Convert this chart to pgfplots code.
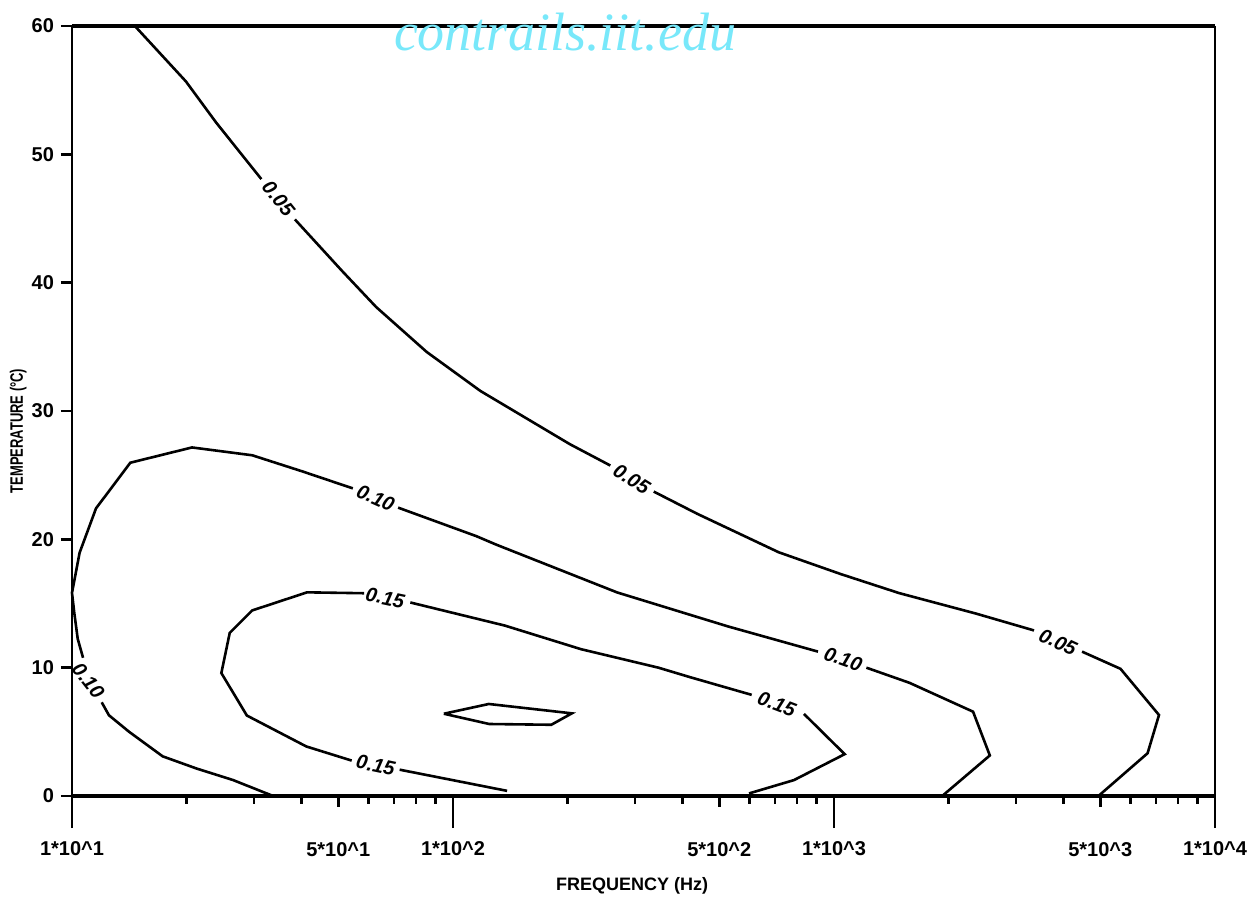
\documentclass[border=0pt]{standalone}
\usepackage{fontspec}
\setmainfont{Liberation Sans}
\newfontfamily\wmfont{Liberation Serif}
\newfontfamily\condfont[FakeStretch=0.72]{Liberation Sans}
\usepackage{pgfplots}
\pgfplotsset{compat=1.18}
\definecolor{wm}{RGB}{120,232,250}
\begin{document}
\begin{tikzpicture}
\useasboundingbox (0,0) rectangle (630pt,450pt);
\begin{axis}[
  at={(36pt,52pt)}, anchor=south west,
  scale only axis, width=571.5pt, height=385pt,
  xmin=1, xmax=4, ymin=0, ymax=60,
  clip=false,
  separate axis lines,
  x axis line style={line width=2.2pt},
  y axis line style={line width=1pt},
  tick align=outside,
  xtick pos=bottom, ytick pos=left,
  tick style={black, line width=1.2pt},
  major tick length=5.5pt,
  /pgf/number format/assume math mode=true,
  xtick={1.69897,2.69897,3.69897},
  xticklabels={5*10\textasciicircum 1,5*10\textasciicircum 2,5*10\textasciicircum 3},
  xticklabel style={yshift=-14pt},
  extra x ticks={1,2,3,4},
  extra x tick labels={1*10\textasciicircum 1,1*10\textasciicircum 2,1*10\textasciicircum 3,1*10\textasciicircum 4},
  extra x tick style={/pgfplots/major tick length=16pt, xticklabel style={yshift=11pt}},
  minor xtick={1.30103,1.47712,1.60206,1.77815,1.84510,1.90309,1.95424,
               2.30103,2.47712,2.60206,2.77815,2.84510,2.90309,2.95424,
               3.30103,3.47712,3.60206,3.77815,3.84510,3.90309,3.95424},
  minor tick length=4pt,
  ytick={0,10,...,60},
  tick label style={font=\bfseries\fontsize{10}{12}\selectfont},
  xlabel={FREQUENCY (Hz)},
  xlabel style={font=\bfseries\fontsize{9}{10}\selectfont, at={(axis description cs:0.49,0)}, anchor=center, yshift=-45pt},
  ylabel={TEMPERATURE (°C)},
  ylabel style={font=\condfont\bfseries\fontsize{9}{10}\selectfont, at={(axis description cs:-0.047,0.474)}, anchor=center},
]
% contour 0.05
\addplot[black, line width=1.3pt] coordinates {(1.165,60) (1.299,55.68) (1.379,52.45) (1.497,48.07)};
\addplot[black, line width=1.3pt] coordinates {(1.585,44.93) (1.708,40.94) (1.798,38.11) (1.931,34.60) (2.072,31.56) (2.307,27.41) (2.413,25.75)};
\addplot[black, line width=1.3pt] coordinates {(2.527,23.72) (2.641,21.99) (2.855,18.99) (3.018,17.29) (3.171,15.81) (3.372,14.22) (3.525,12.90)};
\addplot[black, line width=1.3pt] coordinates {(3.651,11.25) (3.752,9.91) (3.853,6.31) (3.823,3.33) (3.694,0)};
% contour 0.10
\addplot[black, line width=1.3pt] coordinates {(1.528,0) (1.422,1.25) (1.327,2.14) (1.238,3.09) (1.150,5.0) (1.097,6.29) (1.078,7.30)};
\addplot[black, line width=1.3pt] coordinates {(1.029,10.77) (1.015,12.25) (1.006,14.27) (1.000,15.83) (1.020,18.96) (1.063,22.41) (1.153,25.97) (1.315,27.16) (1.473,26.55) (1.605,25.29) (1.737,23.97)};
\addplot[black, line width=1.3pt] coordinates {(1.856,22.47) (2.061,20.25) (2.114,19.58) (2.431,15.86) (2.721,13.22) (2.958,11.25)};
\addplot[black, line width=1.3pt] coordinates {(3.085,10.0) (3.198,8.82) (3.365,6.57) (3.409,3.16) (3.284,0)};
% contour 0.15
\addplot[black, line width=1.3pt] coordinates {(2.142,0.4) (1.860,2.05)};
\addplot[black, line width=1.3pt] coordinates {(1.734,2.76) (1.615,3.86) (1.459,6.27) (1.392,9.58) (1.414,12.71) (1.473,14.46) (1.617,15.87) (1.767,15.80)};
\addplot[black, line width=1.3pt] coordinates {(1.888,15.08) (2.136,13.28) (2.336,11.44) (2.539,10.0) (2.621,9.27) (2.784,7.88)};
\addplot[black, line width=1.3pt] coordinates {(2.921,6.40) (3.028,3.26) (2.895,1.24) (2.777,0.2)};
% inner closed contour
\addplot[black, line width=1.3pt] coordinates {(1.976,6.41) (2.094,7.17) (2.312,6.44) (2.258,5.55) (2.095,5.61) (1.976,6.41)};
% contour labels
\tikzset{cl/.style={font=\bfseries\itshape\fontsize{10}{12}\selectfont, inner sep=0pt}}
\node[cl, rotate=-51] at (axis cs:1.542,46.54) {0.05};
\node[cl, rotate=-32] at (axis cs:2.469,24.69) {0.05};
\node[cl, rotate=-25] at (axis cs:3.588,12.0) {0.05};
\node[cl, rotate=-52] at (axis cs:1.043,8.99) {0.10};
\node[cl, rotate=-24] at (axis cs:1.797,23.22) {0.10};
\node[cl, rotate=-19.5] at (axis cs:3.024,10.66) {0.10};
\node[cl, rotate=-12] at (axis cs:1.797,2.40) {0.15};
\node[cl, rotate=-12] at (axis cs:1.822,15.44) {0.15};
\node[cl, rotate=-21] at (axis cs:2.850,7.14) {0.15};
\end{axis}
\node[text=wm, font=\wmfont\itshape\fontsize{27}{27}\selectfont] at (282.5pt,434pt) {contrails.iit.edu};
\end{tikzpicture}
\end{document}
